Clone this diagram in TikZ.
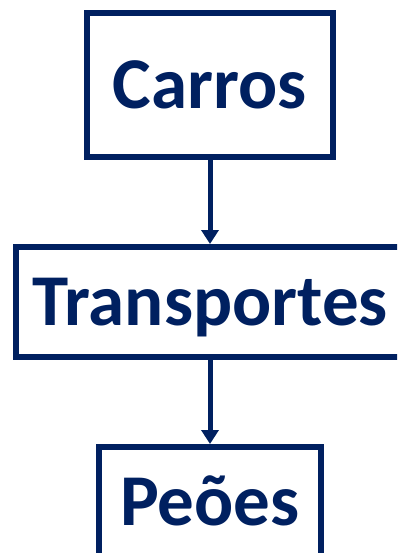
\documentclass[tikz,border=0pt]{standalone}
\usepackage{fontspec}
\setmainfont{Carlito}
\usetikzlibrary{arrows.meta}
\definecolor{navy}{HTML}{002060}
\tikzset{
  box/.style={draw=navy, line width=6pt, inner sep=0pt, text=navy,
    font=\fontsize{73}{80}\selectfont\bfseries, text height=47pt, text depth=0pt, align=center},
  link/.style={draw=navy, line width=5pt, -{Triangle[width=17pt,length=14pt]}}
}
\begin{document}
\begin{tikzpicture}[x=1pt,y=-1pt]
\useasboundingbox (0,0) rectangle (397,553);
\clip (0,0) rectangle (397,553);
\node[box, minimum width=246pt, minimum height=144pt] (carros) at (210,85) {Carros};
\node[box, minimum width=388pt, minimum height=110pt] (transp) at (210,302) {Transportes};
\node[box, minimum width=222pt, minimum height=110pt] (peoes) at (210,502) {Peões};
\draw[link] (carros.south) -- (transp.north);
\draw[link] (transp.south) -- (peoes.north);
\end{tikzpicture}
\end{document}
